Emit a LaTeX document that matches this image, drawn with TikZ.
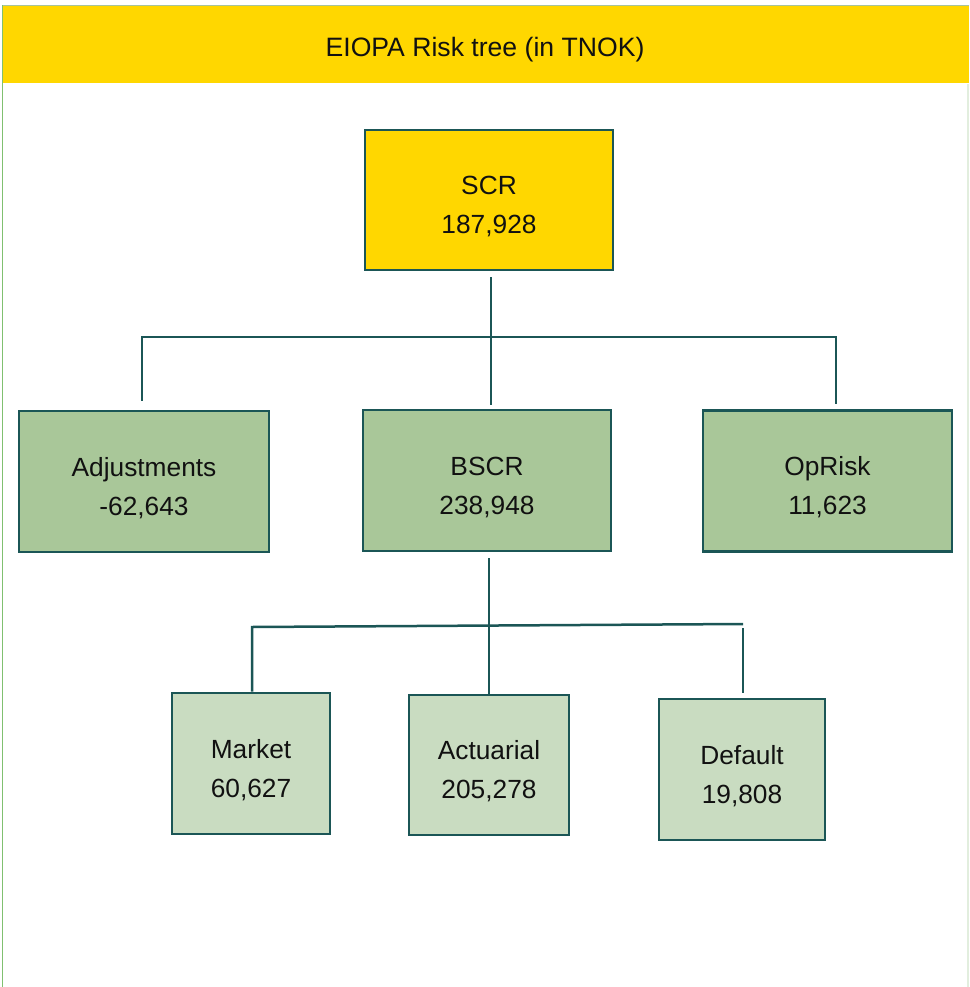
\documentclass[tikz,border=0pt]{standalone}
\usepackage{fontspec}
\setmainfont{Liberation Sans}
\definecolor{hdrgold}{HTML}{FFD700}
\definecolor{lvltwo}{HTML}{A9C799}
\definecolor{lvlthree}{HTML}{C9DCC1}
\definecolor{edgeteal}{HTML}{1B5656}
\definecolor{frameleft}{HTML}{80C070}
\definecolor{frametop}{HTML}{A6C39C}
\definecolor{frameright}{HTML}{E2EEDE}
\definecolor{txt}{HTML}{111111}
\newcommand\boxstrut{\rule{0pt}{32pt}}
\tikzset{
  boxbase/.style={draw=edgeteal, line width=2.6pt, inner sep=0pt, align=center,
    text=txt, font=\fontsize{26.3}{39}\selectfont},
  scrbox/.style={boxbase, fill=hdrgold},
  midbox/.style={boxbase, fill=lvltwo, minimum height=141pt},
  lowbox/.style={boxbase, fill=lvlthree, minimum height=141pt},
  conn/.style={draw=edgeteal, line width=2.5pt}
}
\begin{document}
\begin{tikzpicture}[x=1pt,y=-1pt]
\useasboundingbox (0,0) rectangle (969,987);
% frame and header
\fill[hdrgold] (3,6.5) rectangle (969,83.5);
\draw[frametop, line width=1.5pt] (2,5.5) -- (969,5.5);
\draw[frameleft, line width=1.8pt] (2.5,5) -- (2.5,987);
\draw[frameright, line width=1.2pt] (968,84) -- (968,987);
\node[text=txt, font=\fontsize{26.6}{32}\selectfont] (title) at (485,50) {EIOPA Risk tree (in TNOK)};
% boxes
\node[scrbox, minimum width=248pt, minimum height=140pt] (scr) at (489,200) {\boxstrut SCR\\187,928};
\node[midbox, minimum width=250pt] (adj) at (144,481.5) {\boxstrut Adjustments\\-62,643};
\node[midbox, minimum width=248pt] (bscr) at (487,480.5) {\boxstrut BSCR\\238,948};
\node[midbox, minimum width=249pt] (op) at (827.5,481) {\boxstrut OpRisk\\11,623};
\node[lowbox, minimum width=158pt] (mkt) at (251,763.5) {\boxstrut Market\\60,627};
\node[lowbox, minimum width=160pt, minimum height=140pt] (act) at (489,765) {\boxstrut Actuarial\\205,278};
\node[lowbox, minimum width=166pt] (def) at (742,769.5) {\boxstrut Default\\19,808};
% top connectors
\coordinate (t1) at (491,337);
\coordinate (tL) at (142,337);
\coordinate (tR) at (836,337);
\draw[conn, shorten <=6pt, shorten >=4pt] (t1 |- scr.south) -- (t1 |- bscr.north);
\draw[conn, shorten <=9pt, shorten >=5pt] (tL |- adj.north) -- (tL) -- (tR) -- (tR |- op.north);
% bottom connectors
\coordinate (b1) at (489,626);
\coordinate (bL) at (252,627);
\coordinate (bR) at (743,624);
\draw[conn, shorten <=6pt] (b1 |- bscr.south) -- (b1 |- act.north);
\draw[conn] (bL |- mkt.north) -- (bL) -- (bR);
\draw[conn, shorten <=4pt, shorten >=5pt] (bR) -- (bR |- def.north);
\end{tikzpicture}
\end{document}
